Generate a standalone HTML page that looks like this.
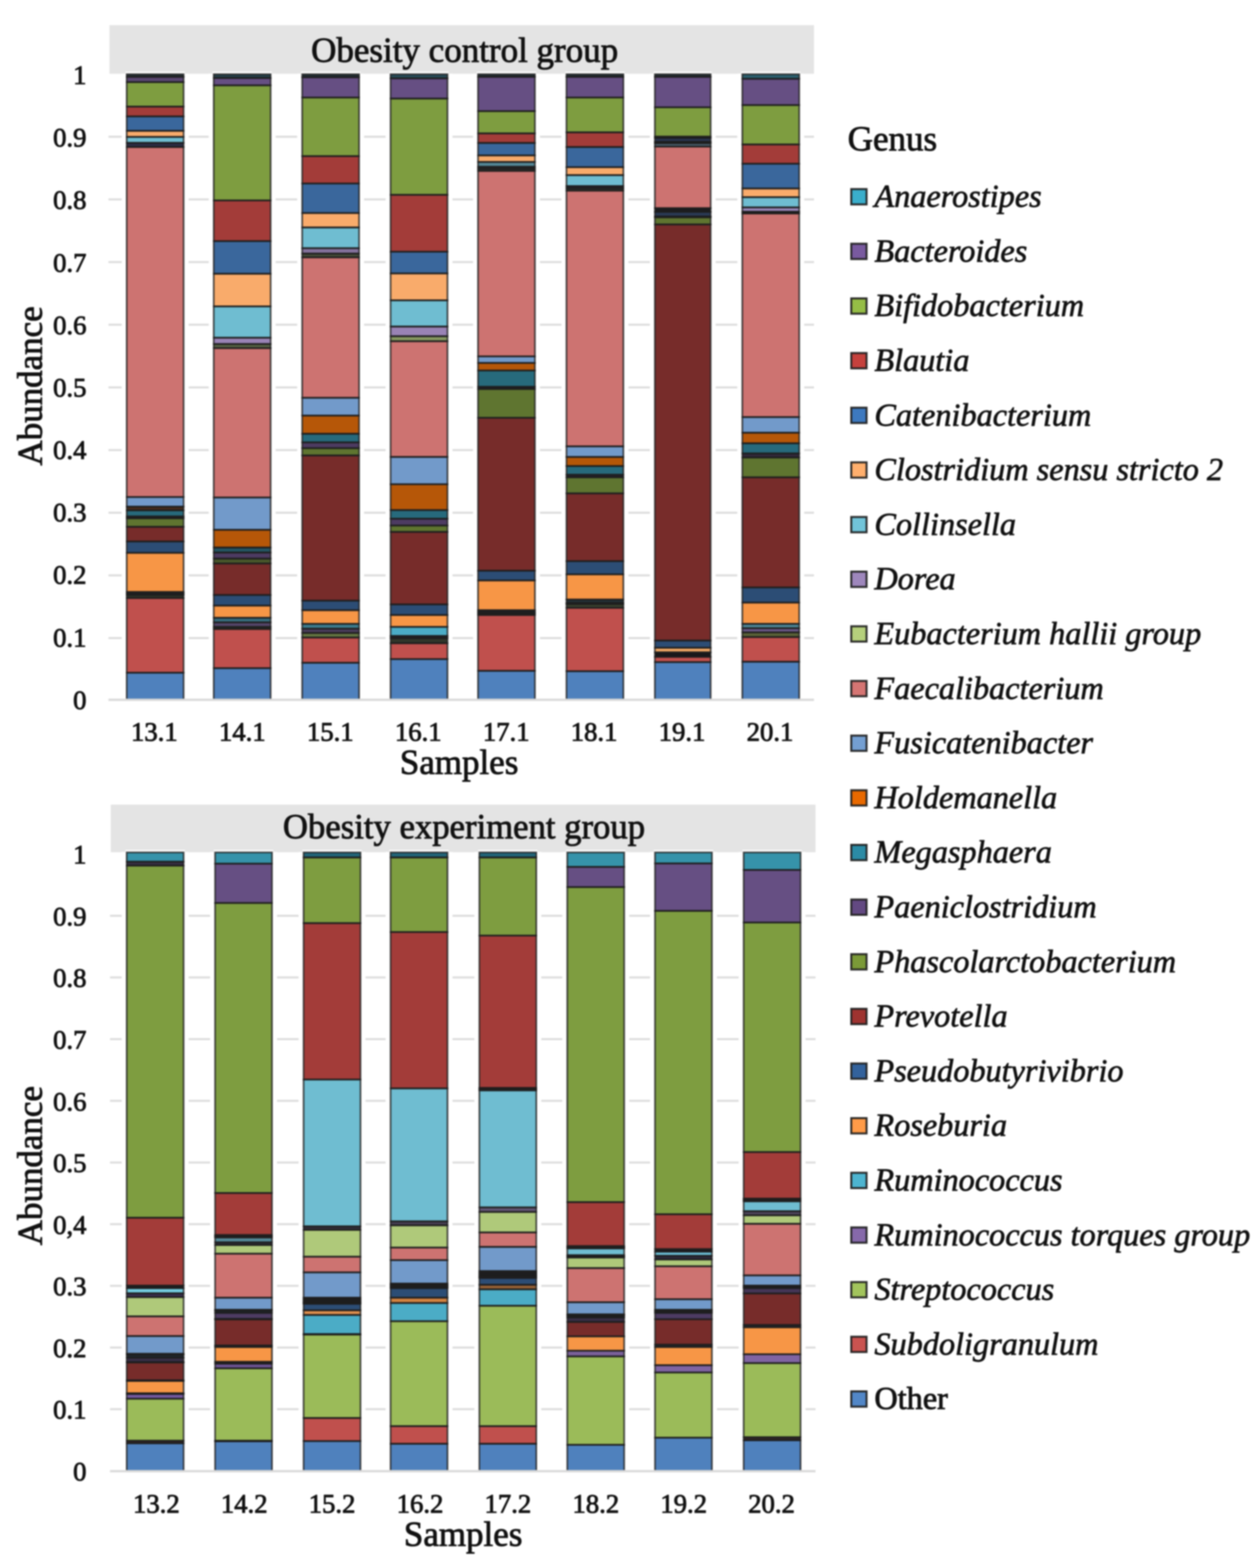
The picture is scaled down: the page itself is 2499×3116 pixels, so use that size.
<!DOCTYPE html>
<html lang="en">
<head>
<meta charset="utf-8">
<title>Genus abundance - obesity control and experiment groups</title>
<style>
html,body{margin:0;padding:0;background:#fff}
body{width:2499px;height:3116px;overflow:hidden}
svg{display:block;filter:blur(1.5px)}
text{font-family:"Liberation Serif","DejaVu Serif",serif;fill:#111;stroke:#111;stroke-width:1.6px;stroke-linejoin:round}
.b{font-size:69.5px}
.t{font-size:53px}
.l{font-size:64.1px;font-style:italic;stroke-width:1.3px}
.o{font-size:64.1px}
</style>
</head>
<body>
<svg width="2499" height="3116" viewBox="0 0 2499 3116">
<rect width="2499" height="3116" fill="#fff"/>
<rect x="217.5" y="50" width="1399.5" height="96.6" fill="#E4E4E4"/>
<rect x="215.5" y="1266" width="1401.5" height="4" fill="#DCDCDC"/>
<rect x="215.5" y="1141.4" width="1401.5" height="4" fill="#DCDCDC"/>
<rect x="215.5" y="1016.9" width="1401.5" height="4" fill="#DCDCDC"/>
<rect x="215.5" y="892.4" width="1401.5" height="4" fill="#DCDCDC"/>
<rect x="215.5" y="767.9" width="1401.5" height="4" fill="#DCDCDC"/>
<rect x="215.5" y="643.3" width="1401.5" height="4" fill="#DCDCDC"/>
<rect x="215.5" y="518.8" width="1401.5" height="4" fill="#DCDCDC"/>
<rect x="215.5" y="394.3" width="1401.5" height="4" fill="#DCDCDC"/>
<rect x="215.5" y="269.7" width="1401.5" height="4" fill="#DCDCDC"/>
<rect x="241.7" y="146.5" width="133" height="1243.9" fill="#fff"/>
<rect x="249.2" y="142.5" width="118" height="6" fill="#fff"/>
<g>
<rect x="251.7" y="147.5" width="113" height="5.1" fill="#223036"/>
<rect x="251.7" y="152.7" width="113" height="10.6" fill="#5a4772"/>
<rect x="251.7" y="163.2" width="113" height="48.5" fill="#7E9D40"/>
<rect x="251.7" y="211.8" width="113" height="19.6" fill="#A33C39"/>
<rect x="251.7" y="231.3" width="113" height="28.6" fill="#3A679C"/>
<rect x="251.7" y="260" width="113" height="12.1" fill="#F9AB6B"/>
<rect x="251.7" y="272.1" width="113" height="11.8" fill="#6FBDD1"/>
<rect x="251.7" y="283.8" width="113" height="8.4" fill="#2b2d45"/>
<rect x="251.7" y="292.2" width="113" height="695.4" fill="#CD7371"/>
<rect x="251.7" y="987.7" width="113" height="19" fill="#729ACA"/>
<rect x="251.7" y="1006.7" width="113" height="7.5" fill="#4a2e1b"/>
<rect x="251.7" y="1014.2" width="113" height="12.1" fill="#276A7C"/>
<rect x="251.7" y="1026.3" width="113" height="3.6" fill="#25222c"/>
<rect x="251.7" y="1029.9" width="113" height="16.9" fill="#5F7530"/>
<rect x="251.7" y="1046.8" width="113" height="29.2" fill="#772C2A"/>
<rect x="251.7" y="1076" width="113" height="22.6" fill="#2C4D75"/>
<rect x="251.7" y="1098.6" width="113" height="77.8" fill="#F79646"/>
<rect x="251.7" y="1176.4" width="113" height="3" fill="#25333b"/>
<rect x="251.7" y="1179.4" width="113" height="3" fill="#2d2835"/>
<rect x="251.7" y="1182.4" width="113" height="6" fill="#31362a"/>
<rect x="251.7" y="1188.5" width="113" height="148.3" fill="#C0504D"/>
<rect x="251.7" y="1336.8" width="113" height="53.7" fill="#4F81BD"/>
</g>
<g fill="none" stroke="#1e1e1e" stroke-width="3.4" stroke-opacity="0.78">
<rect x="251.7" y="147.5" width="113" height="5.1"/>
<rect x="251.7" y="152.7" width="113" height="10.6"/>
<rect x="251.7" y="163.2" width="113" height="48.5"/>
<rect x="251.7" y="211.8" width="113" height="19.6"/>
<rect x="251.7" y="231.3" width="113" height="28.6"/>
<rect x="251.7" y="260" width="113" height="12.1"/>
<rect x="251.7" y="272.1" width="113" height="11.8"/>
<rect x="251.7" y="283.8" width="113" height="8.4"/>
<rect x="251.7" y="292.2" width="113" height="695.4"/>
<rect x="251.7" y="987.7" width="113" height="19"/>
<rect x="251.7" y="1006.7" width="113" height="7.5"/>
<rect x="251.7" y="1014.2" width="113" height="12.1"/>
<rect x="251.7" y="1026.3" width="113" height="3.6"/>
<rect x="251.7" y="1029.9" width="113" height="16.9"/>
<rect x="251.7" y="1046.8" width="113" height="29.2"/>
<rect x="251.7" y="1076" width="113" height="22.6"/>
<rect x="251.7" y="1098.6" width="113" height="77.8"/>
<rect x="251.7" y="1176.4" width="113" height="3"/>
<rect x="251.7" y="1179.4" width="113" height="3"/>
<rect x="251.7" y="1182.4" width="113" height="6"/>
<rect x="251.7" y="1188.5" width="113" height="148.3"/>
<rect x="251.7" y="1336.8" width="113" height="53.7"/>
</g>
<rect x="414.6" y="146.5" width="133" height="1243.9" fill="#fff"/>
<rect x="422.1" y="142.5" width="118" height="6" fill="#fff"/>
<g>
<rect x="424.6" y="147.5" width="113" height="7.5" fill="#254049"/>
<rect x="424.6" y="155.1" width="113" height="14.5" fill="#664F83"/>
<rect x="424.6" y="169.5" width="113" height="228.8" fill="#7E9D40"/>
<rect x="424.6" y="398.4" width="113" height="80.8" fill="#A33C39"/>
<rect x="424.6" y="479.2" width="113" height="64.8" fill="#3A679C"/>
<rect x="424.6" y="544" width="113" height="64.8" fill="#F9AB6B"/>
<rect x="424.6" y="608.8" width="113" height="62.4" fill="#6FBDD1"/>
<rect x="424.6" y="671.2" width="113" height="12.4" fill="#9983B5"/>
<rect x="424.6" y="683.6" width="113" height="8.1" fill="#576245"/>
<rect x="424.6" y="691.7" width="113" height="296.9" fill="#CD7371"/>
<rect x="424.6" y="988.6" width="113" height="64.2" fill="#729ACA"/>
<rect x="424.6" y="1052.8" width="113" height="35.3" fill="#B65708"/>
<rect x="424.6" y="1088.1" width="113" height="9.9" fill="#245563"/>
<rect x="424.6" y="1098" width="113" height="12.1" fill="#4D3B62"/>
<rect x="424.6" y="1110.1" width="113" height="9.6" fill="#49582b"/>
<rect x="424.6" y="1119.7" width="113" height="62.7" fill="#772C2A"/>
<rect x="424.6" y="1182.4" width="113" height="21.1" fill="#2C4D75"/>
<rect x="424.6" y="1203.5" width="113" height="24.1" fill="#F79646"/>
<rect x="424.6" y="1227.7" width="113" height="9" fill="#376d7e"/>
<rect x="424.6" y="1236.7" width="113" height="9" fill="#554569"/>
<rect x="424.6" y="1245.7" width="113" height="4.2" fill="#31362a"/>
<rect x="424.6" y="1250" width="113" height="77.8" fill="#C0504D"/>
<rect x="424.6" y="1327.7" width="113" height="62.7" fill="#4F81BD"/>
</g>
<g fill="none" stroke="#1e1e1e" stroke-width="3.4" stroke-opacity="0.78">
<rect x="424.6" y="147.5" width="113" height="7.5"/>
<rect x="424.6" y="155.1" width="113" height="14.5"/>
<rect x="424.6" y="169.5" width="113" height="228.8"/>
<rect x="424.6" y="398.4" width="113" height="80.8"/>
<rect x="424.6" y="479.2" width="113" height="64.8"/>
<rect x="424.6" y="544" width="113" height="64.8"/>
<rect x="424.6" y="608.8" width="113" height="62.4"/>
<rect x="424.6" y="671.2" width="113" height="12.4"/>
<rect x="424.6" y="683.6" width="113" height="8.1"/>
<rect x="424.6" y="691.7" width="113" height="296.9"/>
<rect x="424.6" y="988.6" width="113" height="64.2"/>
<rect x="424.6" y="1052.8" width="113" height="35.3"/>
<rect x="424.6" y="1088.1" width="113" height="9.9"/>
<rect x="424.6" y="1098" width="113" height="12.1"/>
<rect x="424.6" y="1110.1" width="113" height="9.6"/>
<rect x="424.6" y="1119.7" width="113" height="62.7"/>
<rect x="424.6" y="1182.4" width="113" height="21.1"/>
<rect x="424.6" y="1203.5" width="113" height="24.1"/>
<rect x="424.6" y="1227.7" width="113" height="9"/>
<rect x="424.6" y="1236.7" width="113" height="9"/>
<rect x="424.6" y="1245.7" width="113" height="4.2"/>
<rect x="424.6" y="1250" width="113" height="77.8"/>
<rect x="424.6" y="1327.7" width="113" height="62.7"/>
</g>
<rect x="590.3" y="146.5" width="133" height="1243.9" fill="#fff"/>
<rect x="597.8" y="142.5" width="118" height="6" fill="#fff"/>
<g>
<rect x="600.3" y="147.5" width="113" height="6" fill="#223036"/>
<rect x="600.3" y="153.6" width="113" height="40.1" fill="#664F83"/>
<rect x="600.3" y="193.7" width="113" height="116.7" fill="#7E9D40"/>
<rect x="600.3" y="310.3" width="113" height="54.3" fill="#A33C39"/>
<rect x="600.3" y="364.6" width="113" height="58.8" fill="#3A679C"/>
<rect x="600.3" y="423.4" width="113" height="28.6" fill="#F9AB6B"/>
<rect x="600.3" y="452" width="113" height="41.3" fill="#6FBDD1"/>
<rect x="600.3" y="493.3" width="113" height="10.6" fill="#84729c"/>
<rect x="600.3" y="503.9" width="113" height="7.5" fill="#484f3b"/>
<rect x="600.3" y="511.4" width="113" height="279.1" fill="#CD7371"/>
<rect x="600.3" y="790.5" width="113" height="35.3" fill="#729ACA"/>
<rect x="600.3" y="825.8" width="113" height="36.2" fill="#B65708"/>
<rect x="600.3" y="862" width="113" height="17.2" fill="#276A7C"/>
<rect x="600.3" y="879.1" width="113" height="11.5" fill="#4d3b61"/>
<rect x="600.3" y="890.6" width="113" height="14.5" fill="#5F7530"/>
<rect x="600.3" y="905.1" width="113" height="288.5" fill="#772C2A"/>
<rect x="600.3" y="1193.6" width="113" height="19" fill="#2C4D75"/>
<rect x="600.3" y="1212.6" width="113" height="27.1" fill="#F79646"/>
<rect x="600.3" y="1239.7" width="113" height="9.6" fill="#3c7d8f"/>
<rect x="600.3" y="1249.4" width="113" height="8.4" fill="#4a3d5c"/>
<rect x="600.3" y="1257.8" width="113" height="9" fill="#647641"/>
<rect x="600.3" y="1266.8" width="113" height="50.3" fill="#C0504D"/>
<rect x="600.3" y="1317.2" width="113" height="73.3" fill="#4F81BD"/>
</g>
<g fill="none" stroke="#1e1e1e" stroke-width="3.4" stroke-opacity="0.78">
<rect x="600.3" y="147.5" width="113" height="6"/>
<rect x="600.3" y="153.6" width="113" height="40.1"/>
<rect x="600.3" y="193.7" width="113" height="116.7"/>
<rect x="600.3" y="310.3" width="113" height="54.3"/>
<rect x="600.3" y="364.6" width="113" height="58.8"/>
<rect x="600.3" y="423.4" width="113" height="28.6"/>
<rect x="600.3" y="452" width="113" height="41.3"/>
<rect x="600.3" y="493.3" width="113" height="10.6"/>
<rect x="600.3" y="503.9" width="113" height="7.5"/>
<rect x="600.3" y="511.4" width="113" height="279.1"/>
<rect x="600.3" y="790.5" width="113" height="35.3"/>
<rect x="600.3" y="825.8" width="113" height="36.2"/>
<rect x="600.3" y="862" width="113" height="17.2"/>
<rect x="600.3" y="879.1" width="113" height="11.5"/>
<rect x="600.3" y="890.6" width="113" height="14.5"/>
<rect x="600.3" y="905.1" width="113" height="288.5"/>
<rect x="600.3" y="1193.6" width="113" height="19"/>
<rect x="600.3" y="1212.6" width="113" height="27.1"/>
<rect x="600.3" y="1239.7" width="113" height="9.6"/>
<rect x="600.3" y="1249.4" width="113" height="8.4"/>
<rect x="600.3" y="1257.8" width="113" height="9"/>
<rect x="600.3" y="1266.8" width="113" height="50.3"/>
<rect x="600.3" y="1317.2" width="113" height="73.3"/>
</g>
<rect x="765.9" y="146.5" width="133" height="1243.9" fill="#fff"/>
<rect x="773.4" y="142.5" width="118" height="6" fill="#fff"/>
<g>
<rect x="775.9" y="147.5" width="113" height="8.1" fill="#274c58"/>
<rect x="775.9" y="155.7" width="113" height="40.1" fill="#664F83"/>
<rect x="775.9" y="195.8" width="113" height="191.4" fill="#7E9D40"/>
<rect x="775.9" y="387.2" width="113" height="113.1" fill="#A33C39"/>
<rect x="775.9" y="500.3" width="113" height="43.1" fill="#3A679C"/>
<rect x="775.9" y="543.4" width="113" height="53.4" fill="#F9AB6B"/>
<rect x="775.9" y="596.7" width="113" height="52.2" fill="#6FBDD1"/>
<rect x="775.9" y="648.9" width="113" height="19.3" fill="#9983B5"/>
<rect x="775.9" y="668.2" width="113" height="9.9" fill="#879961"/>
<rect x="775.9" y="678.1" width="113" height="229.9" fill="#CD7371"/>
<rect x="775.9" y="908.1" width="113" height="54.3" fill="#729ACA"/>
<rect x="775.9" y="962.3" width="113" height="51.3" fill="#B65708"/>
<rect x="775.9" y="1013.6" width="113" height="17.2" fill="#276A7C"/>
<rect x="775.9" y="1030.8" width="113" height="13.6" fill="#4D3B62"/>
<rect x="775.9" y="1044.4" width="113" height="12.7" fill="#5F7530"/>
<rect x="775.9" y="1057" width="113" height="144.1" fill="#772C2A"/>
<rect x="775.9" y="1201.1" width="113" height="21.1" fill="#2C4D75"/>
<rect x="775.9" y="1222.2" width="113" height="23.5" fill="#F79646"/>
<rect x="775.9" y="1245.7" width="113" height="18.1" fill="#4BACC6"/>
<rect x="775.9" y="1263.8" width="113" height="4.2" fill="#2d2835"/>
<rect x="775.9" y="1268.1" width="113" height="10.3" fill="#31362a"/>
<rect x="775.9" y="1278.3" width="113" height="31.4" fill="#C0504D"/>
<rect x="775.9" y="1309.7" width="113" height="80.8" fill="#4F81BD"/>
</g>
<g fill="none" stroke="#1e1e1e" stroke-width="3.4" stroke-opacity="0.78">
<rect x="775.9" y="147.5" width="113" height="8.1"/>
<rect x="775.9" y="155.7" width="113" height="40.1"/>
<rect x="775.9" y="195.8" width="113" height="191.4"/>
<rect x="775.9" y="387.2" width="113" height="113.1"/>
<rect x="775.9" y="500.3" width="113" height="43.1"/>
<rect x="775.9" y="543.4" width="113" height="53.4"/>
<rect x="775.9" y="596.7" width="113" height="52.2"/>
<rect x="775.9" y="648.9" width="113" height="19.3"/>
<rect x="775.9" y="668.2" width="113" height="9.9"/>
<rect x="775.9" y="678.1" width="113" height="229.9"/>
<rect x="775.9" y="908.1" width="113" height="54.3"/>
<rect x="775.9" y="962.3" width="113" height="51.3"/>
<rect x="775.9" y="1013.6" width="113" height="17.2"/>
<rect x="775.9" y="1030.8" width="113" height="13.6"/>
<rect x="775.9" y="1044.4" width="113" height="12.7"/>
<rect x="775.9" y="1057" width="113" height="144.1"/>
<rect x="775.9" y="1201.1" width="113" height="21.1"/>
<rect x="775.9" y="1222.2" width="113" height="23.5"/>
<rect x="775.9" y="1245.7" width="113" height="18.1"/>
<rect x="775.9" y="1263.8" width="113" height="4.2"/>
<rect x="775.9" y="1268.1" width="113" height="10.3"/>
<rect x="775.9" y="1278.3" width="113" height="31.4"/>
<rect x="775.9" y="1309.7" width="113" height="80.8"/>
</g>
<rect x="939.6" y="146.5" width="133" height="1243.9" fill="#fff"/>
<rect x="947.1" y="142.5" width="118" height="6" fill="#fff"/>
<g>
<rect x="949.6" y="147.5" width="113" height="5.1" fill="#223036"/>
<rect x="949.6" y="152.7" width="113" height="68.1" fill="#664F83"/>
<rect x="949.6" y="220.8" width="113" height="44.3" fill="#7E9D40"/>
<rect x="949.6" y="265.1" width="113" height="19" fill="#A33C39"/>
<rect x="949.6" y="284.1" width="113" height="24.7" fill="#3A679C"/>
<rect x="949.6" y="308.8" width="113" height="13" fill="#F9AB6B"/>
<rect x="949.6" y="321.8" width="113" height="9.6" fill="#548897"/>
<rect x="949.6" y="331.4" width="113" height="3.9" fill="#302d38"/>
<rect x="949.6" y="335.4" width="113" height="4.2" fill="#34382f"/>
<rect x="949.6" y="339.6" width="113" height="368.7" fill="#CD7371"/>
<rect x="949.6" y="708.3" width="113" height="13" fill="#729ACA"/>
<rect x="949.6" y="721.3" width="113" height="15.1" fill="#B65708"/>
<rect x="949.6" y="736.3" width="113" height="32.3" fill="#276A7C"/>
<rect x="949.6" y="768.6" width="113" height="4.4" fill="#25222c"/>
<rect x="949.6" y="773" width="113" height="57.3" fill="#5F7530"/>
<rect x="949.6" y="830.3" width="113" height="303.9" fill="#772C2A"/>
<rect x="949.6" y="1134.2" width="113" height="19.3" fill="#2C4D75"/>
<rect x="949.6" y="1153.5" width="113" height="59.1" fill="#F79646"/>
<rect x="949.6" y="1212.6" width="113" height="3.6" fill="#25333b"/>
<rect x="949.6" y="1216.2" width="113" height="3" fill="#2d2835"/>
<rect x="949.6" y="1219.2" width="113" height="3" fill="#31362a"/>
<rect x="949.6" y="1222.2" width="113" height="110.9" fill="#C0504D"/>
<rect x="949.6" y="1333.2" width="113" height="57.3" fill="#4F81BD"/>
</g>
<g fill="none" stroke="#1e1e1e" stroke-width="3.4" stroke-opacity="0.78">
<rect x="949.6" y="147.5" width="113" height="5.1"/>
<rect x="949.6" y="152.7" width="113" height="68.1"/>
<rect x="949.6" y="220.8" width="113" height="44.3"/>
<rect x="949.6" y="265.1" width="113" height="19"/>
<rect x="949.6" y="284.1" width="113" height="24.7"/>
<rect x="949.6" y="308.8" width="113" height="13"/>
<rect x="949.6" y="321.8" width="113" height="9.6"/>
<rect x="949.6" y="331.4" width="113" height="3.9"/>
<rect x="949.6" y="335.4" width="113" height="4.2"/>
<rect x="949.6" y="339.6" width="113" height="368.7"/>
<rect x="949.6" y="708.3" width="113" height="13"/>
<rect x="949.6" y="721.3" width="113" height="15.1"/>
<rect x="949.6" y="736.3" width="113" height="32.3"/>
<rect x="949.6" y="768.6" width="113" height="4.4"/>
<rect x="949.6" y="773" width="113" height="57.3"/>
<rect x="949.6" y="830.3" width="113" height="303.9"/>
<rect x="949.6" y="1134.2" width="113" height="19.3"/>
<rect x="949.6" y="1153.5" width="113" height="59.1"/>
<rect x="949.6" y="1212.6" width="113" height="3.6"/>
<rect x="949.6" y="1216.2" width="113" height="3"/>
<rect x="949.6" y="1219.2" width="113" height="3"/>
<rect x="949.6" y="1222.2" width="113" height="110.9"/>
<rect x="949.6" y="1333.2" width="113" height="57.3"/>
</g>
<rect x="1115.3" y="146.5" width="133" height="1243.9" fill="#fff"/>
<rect x="1122.8" y="142.5" width="118" height="6" fill="#fff"/>
<g>
<rect x="1125.3" y="147.5" width="113" height="5.1" fill="#223036"/>
<rect x="1125.3" y="152.7" width="113" height="41" fill="#664F83"/>
<rect x="1125.3" y="193.7" width="113" height="69.3" fill="#7E9D40"/>
<rect x="1125.3" y="263" width="113" height="29.2" fill="#A33C39"/>
<rect x="1125.3" y="292.2" width="113" height="40.1" fill="#3A679C"/>
<rect x="1125.3" y="332.3" width="113" height="15.7" fill="#F9AB6B"/>
<rect x="1125.3" y="348" width="113" height="21.7" fill="#6FBDD1"/>
<rect x="1125.3" y="369.7" width="113" height="4.2" fill="#302d38"/>
<rect x="1125.3" y="374" width="113" height="4.8" fill="#34382f"/>
<rect x="1125.3" y="378.8" width="113" height="508.2" fill="#CD7371"/>
<rect x="1125.3" y="887" width="113" height="21.1" fill="#729ACA"/>
<rect x="1125.3" y="908.1" width="113" height="18.1" fill="#B65708"/>
<rect x="1125.3" y="926.2" width="113" height="17.2" fill="#276A7C"/>
<rect x="1125.3" y="943.4" width="113" height="5.1" fill="#25222c"/>
<rect x="1125.3" y="948.5" width="113" height="32" fill="#5F7530"/>
<rect x="1125.3" y="980.4" width="113" height="134.8" fill="#772C2A"/>
<rect x="1125.3" y="1115.2" width="113" height="26.2" fill="#2C4D75"/>
<rect x="1125.3" y="1141.4" width="113" height="50" fill="#F79646"/>
<rect x="1125.3" y="1191.5" width="113" height="6.6" fill="#25333b"/>
<rect x="1125.3" y="1198.1" width="113" height="2.4" fill="#2d2835"/>
<rect x="1125.3" y="1200.5" width="113" height="7.2" fill="#3b422f"/>
<rect x="1125.3" y="1207.8" width="113" height="126" fill="#C0504D"/>
<rect x="1125.3" y="1333.8" width="113" height="56.7" fill="#4F81BD"/>
</g>
<g fill="none" stroke="#1e1e1e" stroke-width="3.4" stroke-opacity="0.78">
<rect x="1125.3" y="147.5" width="113" height="5.1"/>
<rect x="1125.3" y="152.7" width="113" height="41"/>
<rect x="1125.3" y="193.7" width="113" height="69.3"/>
<rect x="1125.3" y="263" width="113" height="29.2"/>
<rect x="1125.3" y="292.2" width="113" height="40.1"/>
<rect x="1125.3" y="332.3" width="113" height="15.7"/>
<rect x="1125.3" y="348" width="113" height="21.7"/>
<rect x="1125.3" y="369.7" width="113" height="4.2"/>
<rect x="1125.3" y="374" width="113" height="4.8"/>
<rect x="1125.3" y="378.8" width="113" height="508.2"/>
<rect x="1125.3" y="887" width="113" height="21.1"/>
<rect x="1125.3" y="908.1" width="113" height="18.1"/>
<rect x="1125.3" y="926.2" width="113" height="17.2"/>
<rect x="1125.3" y="943.4" width="113" height="5.1"/>
<rect x="1125.3" y="948.5" width="113" height="32"/>
<rect x="1125.3" y="980.4" width="113" height="134.8"/>
<rect x="1125.3" y="1115.2" width="113" height="26.2"/>
<rect x="1125.3" y="1141.4" width="113" height="50"/>
<rect x="1125.3" y="1191.5" width="113" height="6.6"/>
<rect x="1125.3" y="1198.1" width="113" height="2.4"/>
<rect x="1125.3" y="1200.5" width="113" height="7.2"/>
<rect x="1125.3" y="1207.8" width="113" height="126"/>
<rect x="1125.3" y="1333.8" width="113" height="56.7"/>
</g>
<rect x="1290.9" y="146.5" width="130.8" height="1243.9" fill="#fff"/>
<rect x="1298.4" y="142.5" width="115.8" height="6" fill="#fff"/>
<g>
<rect x="1300.9" y="147.5" width="110.8" height="5.1" fill="#223036"/>
<rect x="1300.9" y="152.7" width="110.8" height="60.6" fill="#664F83"/>
<rect x="1300.9" y="213.3" width="110.8" height="58.2" fill="#7E9D40"/>
<rect x="1300.9" y="271.5" width="110.8" height="2.7" fill="#1c1c20"/>
<rect x="1300.9" y="274.2" width="110.8" height="7.6" fill="#2a3752"/>
<rect x="1300.9" y="281.8" width="110.8" height="2.8" fill="#1c1c20"/>
<rect x="1300.9" y="284.6" width="110.8" height="6.7" fill="#4f6572"/>
<rect x="1300.9" y="291.3" width="110.8" height="122.3" fill="#CD7371"/>
<rect x="1300.9" y="413.6" width="110.8" height="7.4" fill="#1b1b1e"/>
<rect x="1300.9" y="421" width="110.8" height="9.3" fill="#2a3a55"/>
<rect x="1300.9" y="430.3" width="110.8" height="1.5" fill="#1c1c20"/>
<rect x="1300.9" y="431.8" width="110.8" height="14.2" fill="#5F7530"/>
<rect x="1300.9" y="446" width="110.8" height="826.9" fill="#772C2A"/>
<rect x="1300.9" y="1272.9" width="110.8" height="14.5" fill="#2C4D75"/>
<rect x="1300.9" y="1287.3" width="110.8" height="9" fill="#f2a965"/>
<rect x="1300.9" y="1296.4" width="110.8" height="9" fill="#18181a"/>
<rect x="1300.9" y="1305.4" width="110.8" height="10.3" fill="#c0504d"/>
<rect x="1300.9" y="1315.7" width="110.8" height="74.8" fill="#4F81BD"/>
</g>
<g fill="none" stroke="#1e1e1e" stroke-width="3.4" stroke-opacity="0.78">
<rect x="1300.9" y="147.5" width="110.8" height="5.1"/>
<rect x="1300.9" y="152.7" width="110.8" height="60.6"/>
<rect x="1300.9" y="213.3" width="110.8" height="58.2"/>
<rect x="1300.9" y="271.5" width="110.8" height="2.7"/>
<rect x="1300.9" y="274.2" width="110.8" height="7.6"/>
<rect x="1300.9" y="281.8" width="110.8" height="2.8"/>
<rect x="1300.9" y="284.6" width="110.8" height="6.7"/>
<rect x="1300.9" y="291.3" width="110.8" height="122.3"/>
<rect x="1300.9" y="413.6" width="110.8" height="7.4"/>
<rect x="1300.9" y="421" width="110.8" height="9.3"/>
<rect x="1300.9" y="430.3" width="110.8" height="1.5"/>
<rect x="1300.9" y="431.8" width="110.8" height="14.2"/>
<rect x="1300.9" y="446" width="110.8" height="826.9"/>
<rect x="1300.9" y="1272.9" width="110.8" height="14.5"/>
<rect x="1300.9" y="1287.3" width="110.8" height="9"/>
<rect x="1300.9" y="1296.4" width="110.8" height="9"/>
<rect x="1300.9" y="1305.4" width="110.8" height="10.3"/>
<rect x="1300.9" y="1315.7" width="110.8" height="74.8"/>
</g>
<rect x="1464.6" y="146.5" width="133" height="1243.9" fill="#fff"/>
<rect x="1472.1" y="142.5" width="118" height="6" fill="#fff"/>
<g>
<rect x="1474.6" y="147.5" width="113" height="9" fill="#2b5f6e"/>
<rect x="1474.6" y="156.6" width="113" height="52.2" fill="#664F83"/>
<rect x="1474.6" y="208.7" width="113" height="78.4" fill="#7E9D40"/>
<rect x="1474.6" y="287.1" width="113" height="38.3" fill="#A33C39"/>
<rect x="1474.6" y="325.4" width="113" height="49.1" fill="#3A679C"/>
<rect x="1474.6" y="374.6" width="113" height="17.2" fill="#F9AB6B"/>
<rect x="1474.6" y="391.7" width="113" height="20.5" fill="#6FBDD1"/>
<rect x="1474.6" y="412.2" width="113" height="8.4" fill="#9a86b8"/>
<rect x="1474.6" y="420.7" width="113" height="3.6" fill="#1c1c20"/>
<rect x="1474.6" y="424.3" width="113" height="404.5" fill="#CD7371"/>
<rect x="1474.6" y="828.8" width="113" height="31.1" fill="#729ACA"/>
<rect x="1474.6" y="859.8" width="113" height="21.1" fill="#B65708"/>
<rect x="1474.6" y="880.9" width="113" height="20.2" fill="#276A7C"/>
<rect x="1474.6" y="901.1" width="113" height="8.1" fill="#31293b"/>
<rect x="1474.6" y="909.3" width="113" height="39.2" fill="#5F7530"/>
<rect x="1474.6" y="948.5" width="113" height="218.9" fill="#772C2A"/>
<rect x="1474.6" y="1167.4" width="113" height="30.1" fill="#2C4D75"/>
<rect x="1474.6" y="1197.5" width="113" height="42.2" fill="#F79646"/>
<rect x="1474.6" y="1239.7" width="113" height="8.7" fill="#4e8796"/>
<rect x="1474.6" y="1248.5" width="113" height="8.1" fill="#6a5888"/>
<rect x="1474.6" y="1256.6" width="113" height="9.3" fill="#5a6238"/>
<rect x="1474.6" y="1265.9" width="113" height="49.1" fill="#C0504D"/>
<rect x="1474.6" y="1315.1" width="113" height="75.4" fill="#4F81BD"/>
</g>
<g fill="none" stroke="#1e1e1e" stroke-width="3.4" stroke-opacity="0.78">
<rect x="1474.6" y="147.5" width="113" height="9"/>
<rect x="1474.6" y="156.6" width="113" height="52.2"/>
<rect x="1474.6" y="208.7" width="113" height="78.4"/>
<rect x="1474.6" y="287.1" width="113" height="38.3"/>
<rect x="1474.6" y="325.4" width="113" height="49.1"/>
<rect x="1474.6" y="374.6" width="113" height="17.2"/>
<rect x="1474.6" y="391.7" width="113" height="20.5"/>
<rect x="1474.6" y="412.2" width="113" height="8.4"/>
<rect x="1474.6" y="420.7" width="113" height="3.6"/>
<rect x="1474.6" y="424.3" width="113" height="404.5"/>
<rect x="1474.6" y="828.8" width="113" height="31.1"/>
<rect x="1474.6" y="859.8" width="113" height="21.1"/>
<rect x="1474.6" y="880.9" width="113" height="20.2"/>
<rect x="1474.6" y="901.1" width="113" height="8.1"/>
<rect x="1474.6" y="909.3" width="113" height="39.2"/>
<rect x="1474.6" y="948.5" width="113" height="218.9"/>
<rect x="1474.6" y="1167.4" width="113" height="30.1"/>
<rect x="1474.6" y="1197.5" width="113" height="42.2"/>
<rect x="1474.6" y="1239.7" width="113" height="8.7"/>
<rect x="1474.6" y="1248.5" width="113" height="8.1"/>
<rect x="1474.6" y="1256.6" width="113" height="9.3"/>
<rect x="1474.6" y="1265.9" width="113" height="49.1"/>
<rect x="1474.6" y="1315.1" width="113" height="75.4"/>
</g>
<rect x="215.5" y="1388.4" width="1401.5" height="4.6" fill="#DADADA"/>
<text x="171.8" y="1408.8" text-anchor="end" class="t">0</text>
<text x="171.8" y="1284.6" text-anchor="end" class="t">0.1</text>
<text x="171.8" y="1160.4" text-anchor="end" class="t">0.2</text>
<text x="171.8" y="1036.3" text-anchor="end" class="t">0.3</text>
<text x="171.8" y="912.1" text-anchor="end" class="t">0.4</text>
<text x="171.8" y="787.9" text-anchor="end" class="t">0.5</text>
<text x="171.8" y="663.7" text-anchor="end" class="t">0.6</text>
<text x="171.8" y="539.5" text-anchor="end" class="t">0.7</text>
<text x="171.8" y="415.4" text-anchor="end" class="t">0.8</text>
<text x="171.8" y="291.2" text-anchor="end" class="t">0.9</text>
<text x="171.8" y="167" text-anchor="end" class="t">1</text>
<text x="306.7" y="1472.3" text-anchor="middle" class="t">13.1</text>
<text x="481.4" y="1472.3" text-anchor="middle" class="t">14.1</text>
<text x="656.1" y="1472.3" text-anchor="middle" class="t">15.1</text>
<text x="830.8" y="1472.3" text-anchor="middle" class="t">16.1</text>
<text x="1005.5" y="1472.3" text-anchor="middle" class="t">17.1</text>
<text x="1180.2" y="1472.3" text-anchor="middle" class="t">18.1</text>
<text x="1354.9" y="1472.3" text-anchor="middle" class="t">19.1</text>
<text x="1529.6" y="1472.3" text-anchor="middle" class="t">20.1</text>
<text x="912" y="1537.5" text-anchor="middle" class="b">Samples</text>
<text x="923" y="123.3" text-anchor="middle" class="b">Obesity control group</text>
<text transform="translate(83.2 767) rotate(-90)" text-anchor="middle" class="b">Abundance</text>
<rect x="220" y="1599" width="1400" height="94.6" fill="#E4E4E4"/>
<rect x="218.5" y="2798.4" width="1401.5" height="4" fill="#DCDCDC"/>
<rect x="218.5" y="2675.9" width="1401.5" height="4" fill="#DCDCDC"/>
<rect x="218.5" y="2553.3" width="1401.5" height="4" fill="#DCDCDC"/>
<rect x="218.5" y="2430.7" width="1401.5" height="4" fill="#DCDCDC"/>
<rect x="218.5" y="2308.2" width="1401.5" height="4" fill="#DCDCDC"/>
<rect x="218.5" y="2185.6" width="1401.5" height="4" fill="#DCDCDC"/>
<rect x="218.5" y="2063" width="1401.5" height="4" fill="#DCDCDC"/>
<rect x="218.5" y="1940.4" width="1401.5" height="4" fill="#DCDCDC"/>
<rect x="218.5" y="1817.9" width="1401.5" height="4" fill="#DCDCDC"/>
<rect x="241.7" y="1693" width="133" height="1230.4" fill="#fff"/>
<rect x="249.2" y="1689" width="118" height="6" fill="#fff"/>
<g>
<rect x="251.7" y="1694" width="113" height="18.4" fill="#3693AA"/>
<rect x="251.7" y="1712.4" width="113" height="7.8" fill="#372f43"/>
<rect x="251.7" y="1720.3" width="113" height="699.6" fill="#7E9D40"/>
<rect x="251.7" y="2419.9" width="113" height="134.8" fill="#A33C39"/>
<rect x="251.7" y="2554.7" width="113" height="5.1" fill="#1c1c20"/>
<rect x="251.7" y="2559.8" width="113" height="10.3" fill="#74cde0"/>
<rect x="251.7" y="2570.1" width="113" height="7.5" fill="#3a2f50"/>
<rect x="251.7" y="2577.6" width="113" height="38.3" fill="#AFC97A"/>
<rect x="251.7" y="2615.9" width="113" height="39.2" fill="#CD7371"/>
<rect x="251.7" y="2655.1" width="113" height="35.3" fill="#729ACA"/>
<rect x="251.7" y="2690.3" width="113" height="1.5" fill="#35271e"/>
<rect x="251.7" y="2691.9" width="113" height="6" fill="#1f2930"/>
<rect x="251.7" y="2697.9" width="113" height="9" fill="#382e46"/>
<rect x="251.7" y="2706.9" width="113" height="0.6" fill="#282b24"/>
<rect x="251.7" y="2707.5" width="113" height="35.6" fill="#772C2A"/>
<rect x="251.7" y="2743.1" width="113" height="1.2" fill="#20252e"/>
<rect x="251.7" y="2744.3" width="113" height="24.4" fill="#F79646"/>
<rect x="251.7" y="2768.7" width="113" height="1.5" fill="#1c1c20"/>
<rect x="251.7" y="2770.2" width="113" height="9.3" fill="#7459a0"/>
<rect x="251.7" y="2779.6" width="113" height="83.5" fill="#9BBB59"/>
<rect x="251.7" y="2863.1" width="113" height="5.1" fill="#362628"/>
<rect x="251.7" y="2868.2" width="113" height="55.2" fill="#4F81BD"/>
</g>
<g fill="none" stroke="#1e1e1e" stroke-width="3.4" stroke-opacity="0.78">
<rect x="251.7" y="1694" width="113" height="18.4"/>
<rect x="251.7" y="1712.4" width="113" height="7.8"/>
<rect x="251.7" y="1720.3" width="113" height="699.6"/>
<rect x="251.7" y="2419.9" width="113" height="134.8"/>
<rect x="251.7" y="2554.7" width="113" height="5.1"/>
<rect x="251.7" y="2559.8" width="113" height="10.3"/>
<rect x="251.7" y="2570.1" width="113" height="7.5"/>
<rect x="251.7" y="2577.6" width="113" height="38.3"/>
<rect x="251.7" y="2615.9" width="113" height="39.2"/>
<rect x="251.7" y="2655.1" width="113" height="35.3"/>
<rect x="251.7" y="2690.3" width="113" height="1.5"/>
<rect x="251.7" y="2691.9" width="113" height="6"/>
<rect x="251.7" y="2697.9" width="113" height="9"/>
<rect x="251.7" y="2706.9" width="113" height="0.6"/>
<rect x="251.7" y="2707.5" width="113" height="35.6"/>
<rect x="251.7" y="2743.1" width="113" height="1.2"/>
<rect x="251.7" y="2744.3" width="113" height="24.4"/>
<rect x="251.7" y="2768.7" width="113" height="1.5"/>
<rect x="251.7" y="2770.2" width="113" height="9.3"/>
<rect x="251.7" y="2779.6" width="113" height="83.5"/>
<rect x="251.7" y="2863.1" width="113" height="5.1"/>
<rect x="251.7" y="2868.2" width="113" height="55.2"/>
</g>
<rect x="417.3" y="1693" width="133" height="1230.4" fill="#fff"/>
<rect x="424.8" y="1689" width="118" height="6" fill="#fff"/>
<g>
<rect x="427.3" y="1694" width="113" height="22.3" fill="#3693AA"/>
<rect x="427.3" y="1716.4" width="113" height="78.1" fill="#664F83"/>
<rect x="427.3" y="1794.4" width="113" height="576.3" fill="#7E9D40"/>
<rect x="427.3" y="2370.8" width="113" height="83.5" fill="#A33C39"/>
<rect x="427.3" y="2454.3" width="113" height="2.4" fill="#222934"/>
<rect x="427.3" y="2456.7" width="113" height="2.4" fill="#3f332d"/>
<rect x="427.3" y="2459.1" width="113" height="9.6" fill="#548897"/>
<rect x="427.3" y="2468.8" width="113" height="5.4" fill="#302d38"/>
<rect x="427.3" y="2474.2" width="113" height="17.2" fill="#AFC97A"/>
<rect x="427.3" y="2491.4" width="113" height="87.4" fill="#CD7371"/>
<rect x="427.3" y="2578.8" width="113" height="24.1" fill="#729ACA"/>
<rect x="427.3" y="2602.9" width="113" height="1.5" fill="#35271e"/>
<rect x="427.3" y="2604.4" width="113" height="4.5" fill="#1f2930"/>
<rect x="427.3" y="2608.9" width="113" height="12.1" fill="#4D3B62"/>
<rect x="427.3" y="2621" width="113" height="0.9" fill="#282b24"/>
<rect x="427.3" y="2621.9" width="113" height="51.9" fill="#772C2A"/>
<rect x="427.3" y="2673.8" width="113" height="3" fill="#20252e"/>
<rect x="427.3" y="2676.8" width="113" height="29.5" fill="#F79646"/>
<rect x="427.3" y="2706.3" width="113" height="3.6" fill="#1c1c20"/>
<rect x="427.3" y="2709.9" width="113" height="9.3" fill="#6c5494"/>
<rect x="427.3" y="2719.3" width="113" height="143.8" fill="#9BBB59"/>
<rect x="427.3" y="2863.1" width="113" height="1.2" fill="#362628"/>
<rect x="427.3" y="2864.3" width="113" height="59.1" fill="#4F81BD"/>
</g>
<g fill="none" stroke="#1e1e1e" stroke-width="3.4" stroke-opacity="0.78">
<rect x="427.3" y="1694" width="113" height="22.3"/>
<rect x="427.3" y="1716.4" width="113" height="78.1"/>
<rect x="427.3" y="1794.4" width="113" height="576.3"/>
<rect x="427.3" y="2370.8" width="113" height="83.5"/>
<rect x="427.3" y="2454.3" width="113" height="2.4"/>
<rect x="427.3" y="2456.7" width="113" height="2.4"/>
<rect x="427.3" y="2459.1" width="113" height="9.6"/>
<rect x="427.3" y="2468.8" width="113" height="5.4"/>
<rect x="427.3" y="2474.2" width="113" height="17.2"/>
<rect x="427.3" y="2491.4" width="113" height="87.4"/>
<rect x="427.3" y="2578.8" width="113" height="24.1"/>
<rect x="427.3" y="2602.9" width="113" height="1.5"/>
<rect x="427.3" y="2604.4" width="113" height="4.5"/>
<rect x="427.3" y="2608.9" width="113" height="12.1"/>
<rect x="427.3" y="2621" width="113" height="0.9"/>
<rect x="427.3" y="2621.9" width="113" height="51.9"/>
<rect x="427.3" y="2673.8" width="113" height="3"/>
<rect x="427.3" y="2676.8" width="113" height="29.5"/>
<rect x="427.3" y="2706.3" width="113" height="3.6"/>
<rect x="427.3" y="2709.9" width="113" height="9.3"/>
<rect x="427.3" y="2719.3" width="113" height="143.8"/>
<rect x="427.3" y="2863.1" width="113" height="1.2"/>
<rect x="427.3" y="2864.3" width="113" height="59.1"/>
</g>
<rect x="593.1" y="1693" width="133" height="1230.4" fill="#fff"/>
<rect x="600.6" y="1689" width="118" height="6" fill="#fff"/>
<g>
<rect x="603.1" y="1694" width="113" height="9.9" fill="#216579"/>
<rect x="603.1" y="1704" width="113" height="130.5" fill="#7E9D40"/>
<rect x="603.1" y="1834.5" width="113" height="310.8" fill="#A33C39"/>
<rect x="603.1" y="2145.4" width="113" height="291.7" fill="#6FBDD1"/>
<rect x="603.1" y="2437.1" width="113" height="6.9" fill="#34303c"/>
<rect x="603.1" y="2444" width="113" height="53.4" fill="#AFC97A"/>
<rect x="603.1" y="2497.4" width="113" height="31.1" fill="#CD7371"/>
<rect x="603.1" y="2528.5" width="113" height="50.3" fill="#729ACA"/>
<rect x="603.1" y="2578.8" width="113" height="3" fill="#35271e"/>
<rect x="603.1" y="2581.8" width="113" height="3" fill="#1f2930"/>
<rect x="603.1" y="2584.8" width="113" height="3" fill="#25222c"/>
<rect x="603.1" y="2587.8" width="113" height="1.5" fill="#282b24"/>
<rect x="603.1" y="2589.4" width="113" height="1.5" fill="#2b2023"/>
<rect x="603.1" y="2590.9" width="113" height="13" fill="#2C4D75"/>
<rect x="603.1" y="2603.8" width="113" height="9.3" fill="#e0904e"/>
<rect x="603.1" y="2613.2" width="113" height="38" fill="#4BACC6"/>
<rect x="603.1" y="2651.2" width="113" height="0.9" fill="#2d2835"/>
<rect x="603.1" y="2652.1" width="113" height="165.8" fill="#9BBB59"/>
<rect x="603.1" y="2817.9" width="113" height="45.8" fill="#C0504D"/>
<rect x="603.1" y="2863.7" width="113" height="59.7" fill="#4F81BD"/>
</g>
<g fill="none" stroke="#1e1e1e" stroke-width="3.4" stroke-opacity="0.78">
<rect x="603.1" y="1694" width="113" height="9.9"/>
<rect x="603.1" y="1704" width="113" height="130.5"/>
<rect x="603.1" y="1834.5" width="113" height="310.8"/>
<rect x="603.1" y="2145.4" width="113" height="291.7"/>
<rect x="603.1" y="2437.1" width="113" height="6.9"/>
<rect x="603.1" y="2444" width="113" height="53.4"/>
<rect x="603.1" y="2497.4" width="113" height="31.1"/>
<rect x="603.1" y="2528.5" width="113" height="50.3"/>
<rect x="603.1" y="2578.8" width="113" height="3"/>
<rect x="603.1" y="2581.8" width="113" height="3"/>
<rect x="603.1" y="2584.8" width="113" height="3"/>
<rect x="603.1" y="2587.8" width="113" height="1.5"/>
<rect x="603.1" y="2589.4" width="113" height="1.5"/>
<rect x="603.1" y="2590.9" width="113" height="13"/>
<rect x="603.1" y="2603.8" width="113" height="9.3"/>
<rect x="603.1" y="2613.2" width="113" height="38"/>
<rect x="603.1" y="2651.2" width="113" height="0.9"/>
<rect x="603.1" y="2652.1" width="113" height="165.8"/>
<rect x="603.1" y="2817.9" width="113" height="45.8"/>
<rect x="603.1" y="2863.7" width="113" height="59.7"/>
</g>
<rect x="765.9" y="1693" width="133" height="1230.4" fill="#fff"/>
<rect x="773.4" y="1689" width="118" height="6" fill="#fff"/>
<g>
<rect x="775.9" y="1694" width="113" height="9.9" fill="#216579"/>
<rect x="775.9" y="1704" width="113" height="148.3" fill="#7E9D40"/>
<rect x="775.9" y="1852.3" width="113" height="310.5" fill="#A33C39"/>
<rect x="775.9" y="2162.9" width="113" height="264.3" fill="#6FBDD1"/>
<rect x="775.9" y="2427.2" width="113" height="7.8" fill="#484054"/>
<rect x="775.9" y="2435" width="113" height="44.3" fill="#AFC97A"/>
<rect x="775.9" y="2479.3" width="113" height="25" fill="#CD7371"/>
<rect x="775.9" y="2504.3" width="113" height="46.4" fill="#729ACA"/>
<rect x="775.9" y="2550.8" width="113" height="2.4" fill="#35271e"/>
<rect x="775.9" y="2553.2" width="113" height="2.1" fill="#1f2930"/>
<rect x="775.9" y="2555.3" width="113" height="2.4" fill="#25222c"/>
<rect x="775.9" y="2557.7" width="113" height="2.1" fill="#2b2023"/>
<rect x="775.9" y="2559.8" width="113" height="19" fill="#2C4D75"/>
<rect x="775.9" y="2578.8" width="113" height="10.6" fill="#d28240"/>
<rect x="775.9" y="2589.4" width="113" height="36.2" fill="#4BACC6"/>
<rect x="775.9" y="2625.5" width="113" height="208.6" fill="#9BBB59"/>
<rect x="775.9" y="2834.2" width="113" height="35" fill="#C0504D"/>
<rect x="775.9" y="2869.1" width="113" height="54.3" fill="#4F81BD"/>
</g>
<g fill="none" stroke="#1e1e1e" stroke-width="3.4" stroke-opacity="0.78">
<rect x="775.9" y="1694" width="113" height="9.9"/>
<rect x="775.9" y="1704" width="113" height="148.3"/>
<rect x="775.9" y="1852.3" width="113" height="310.5"/>
<rect x="775.9" y="2162.9" width="113" height="264.3"/>
<rect x="775.9" y="2427.2" width="113" height="7.8"/>
<rect x="775.9" y="2435" width="113" height="44.3"/>
<rect x="775.9" y="2479.3" width="113" height="25"/>
<rect x="775.9" y="2504.3" width="113" height="46.4"/>
<rect x="775.9" y="2550.8" width="113" height="2.4"/>
<rect x="775.9" y="2553.2" width="113" height="2.1"/>
<rect x="775.9" y="2555.3" width="113" height="2.4"/>
<rect x="775.9" y="2557.7" width="113" height="2.1"/>
<rect x="775.9" y="2559.8" width="113" height="19"/>
<rect x="775.9" y="2578.8" width="113" height="10.6"/>
<rect x="775.9" y="2589.4" width="113" height="36.2"/>
<rect x="775.9" y="2625.5" width="113" height="208.6"/>
<rect x="775.9" y="2834.2" width="113" height="35"/>
<rect x="775.9" y="2869.1" width="113" height="54.3"/>
</g>
<rect x="942.3" y="1693" width="133" height="1230.4" fill="#fff"/>
<rect x="949.8" y="1689" width="118" height="6" fill="#fff"/>
<g>
<rect x="952.3" y="1694" width="113" height="9.9" fill="#216579"/>
<rect x="952.3" y="1704" width="113" height="155.3" fill="#7E9D40"/>
<rect x="952.3" y="1859.3" width="113" height="302.7" fill="#A33C39"/>
<rect x="952.3" y="2161.9" width="113" height="2.4" fill="#222934"/>
<rect x="952.3" y="2164.4" width="113" height="2.4" fill="#3f332d"/>
<rect x="952.3" y="2166.8" width="113" height="232.6" fill="#6FBDD1"/>
<rect x="952.3" y="2399.4" width="113" height="9" fill="#635674"/>
<rect x="952.3" y="2408.5" width="113" height="40.7" fill="#AFC97A"/>
<rect x="952.3" y="2449.2" width="113" height="28.6" fill="#CD7371"/>
<rect x="952.3" y="2477.8" width="113" height="48.2" fill="#729ACA"/>
<rect x="952.3" y="2526" width="113" height="3" fill="#35271e"/>
<rect x="952.3" y="2529.1" width="113" height="3" fill="#1f2930"/>
<rect x="952.3" y="2532.1" width="113" height="3" fill="#25222c"/>
<rect x="952.3" y="2535.1" width="113" height="2.4" fill="#282b24"/>
<rect x="952.3" y="2537.5" width="113" height="2.1" fill="#2b2023"/>
<rect x="952.3" y="2539.6" width="113" height="13.6" fill="#2C4D75"/>
<rect x="952.3" y="2553.2" width="113" height="9" fill="#976136"/>
<rect x="952.3" y="2562.2" width="113" height="32.6" fill="#4BACC6"/>
<rect x="952.3" y="2594.8" width="113" height="239.4" fill="#9BBB59"/>
<rect x="952.3" y="2834.2" width="113" height="35" fill="#C0504D"/>
<rect x="952.3" y="2869.1" width="113" height="54.3" fill="#4F81BD"/>
</g>
<g fill="none" stroke="#1e1e1e" stroke-width="3.4" stroke-opacity="0.78">
<rect x="952.3" y="1694" width="113" height="9.9"/>
<rect x="952.3" y="1704" width="113" height="155.3"/>
<rect x="952.3" y="1859.3" width="113" height="302.7"/>
<rect x="952.3" y="2161.9" width="113" height="2.4"/>
<rect x="952.3" y="2164.4" width="113" height="2.4"/>
<rect x="952.3" y="2166.8" width="113" height="232.6"/>
<rect x="952.3" y="2399.4" width="113" height="9"/>
<rect x="952.3" y="2408.5" width="113" height="40.7"/>
<rect x="952.3" y="2449.2" width="113" height="28.6"/>
<rect x="952.3" y="2477.8" width="113" height="48.2"/>
<rect x="952.3" y="2526" width="113" height="3"/>
<rect x="952.3" y="2529.1" width="113" height="3"/>
<rect x="952.3" y="2532.1" width="113" height="3"/>
<rect x="952.3" y="2535.1" width="113" height="2.4"/>
<rect x="952.3" y="2537.5" width="113" height="2.1"/>
<rect x="952.3" y="2539.6" width="113" height="13.6"/>
<rect x="952.3" y="2553.2" width="113" height="9"/>
<rect x="952.3" y="2562.2" width="113" height="32.6"/>
<rect x="952.3" y="2594.8" width="113" height="239.4"/>
<rect x="952.3" y="2834.2" width="113" height="35"/>
<rect x="952.3" y="2869.1" width="113" height="54.3"/>
</g>
<rect x="1116.9" y="1693" width="133" height="1230.4" fill="#fff"/>
<rect x="1124.4" y="1689" width="118" height="6" fill="#fff"/>
<g>
<rect x="1126.9" y="1694" width="113" height="28.6" fill="#3693AA"/>
<rect x="1126.9" y="1722.7" width="113" height="40.1" fill="#664F83"/>
<rect x="1126.9" y="1762.8" width="113" height="626.1" fill="#7E9D40"/>
<rect x="1126.9" y="2388.9" width="113" height="87.4" fill="#A33C39"/>
<rect x="1126.9" y="2476.3" width="113" height="2.4" fill="#222934"/>
<rect x="1126.9" y="2478.7" width="113" height="2.1" fill="#3f332d"/>
<rect x="1126.9" y="2480.8" width="113" height="13.6" fill="#6FBDD1"/>
<rect x="1126.9" y="2494.4" width="113" height="2.4" fill="#302d38"/>
<rect x="1126.9" y="2496.8" width="113" height="2.1" fill="#1c1c20"/>
<rect x="1126.9" y="2498.9" width="113" height="21.1" fill="#AFC97A"/>
<rect x="1126.9" y="2520" width="113" height="67.8" fill="#CD7371"/>
<rect x="1126.9" y="2587.8" width="113" height="24.1" fill="#729ACA"/>
<rect x="1126.9" y="2612" width="113" height="2.1" fill="#35271e"/>
<rect x="1126.9" y="2614.1" width="113" height="3.9" fill="#1f2930"/>
<rect x="1126.9" y="2618" width="113" height="9" fill="#382e46"/>
<rect x="1126.9" y="2627" width="113" height="28.6" fill="#772C2A"/>
<rect x="1126.9" y="2655.7" width="113" height="28.6" fill="#F79646"/>
<rect x="1126.9" y="2684.3" width="113" height="11.2" fill="#7a609a"/>
<rect x="1126.9" y="2695.5" width="113" height="175.8" fill="#9BBB59"/>
<rect x="1126.9" y="2871.2" width="113" height="52.2" fill="#4F81BD"/>
</g>
<g fill="none" stroke="#1e1e1e" stroke-width="3.4" stroke-opacity="0.78">
<rect x="1126.9" y="1694" width="113" height="28.6"/>
<rect x="1126.9" y="1722.7" width="113" height="40.1"/>
<rect x="1126.9" y="1762.8" width="113" height="626.1"/>
<rect x="1126.9" y="2388.9" width="113" height="87.4"/>
<rect x="1126.9" y="2476.3" width="113" height="2.4"/>
<rect x="1126.9" y="2478.7" width="113" height="2.1"/>
<rect x="1126.9" y="2480.8" width="113" height="13.6"/>
<rect x="1126.9" y="2494.4" width="113" height="2.4"/>
<rect x="1126.9" y="2496.8" width="113" height="2.1"/>
<rect x="1126.9" y="2498.9" width="113" height="21.1"/>
<rect x="1126.9" y="2520" width="113" height="67.8"/>
<rect x="1126.9" y="2587.8" width="113" height="24.1"/>
<rect x="1126.9" y="2612" width="113" height="2.1"/>
<rect x="1126.9" y="2614.1" width="113" height="3.9"/>
<rect x="1126.9" y="2618" width="113" height="9"/>
<rect x="1126.9" y="2627" width="113" height="28.6"/>
<rect x="1126.9" y="2655.7" width="113" height="28.6"/>
<rect x="1126.9" y="2684.3" width="113" height="11.2"/>
<rect x="1126.9" y="2695.5" width="113" height="175.8"/>
<rect x="1126.9" y="2871.2" width="113" height="52.2"/>
</g>
<rect x="1291.2" y="1693" width="133" height="1230.4" fill="#fff"/>
<rect x="1298.7" y="1689" width="118" height="6" fill="#fff"/>
<g>
<rect x="1301.2" y="1694" width="113" height="21.7" fill="#3693AA"/>
<rect x="1301.2" y="1715.8" width="113" height="94.4" fill="#664F83"/>
<rect x="1301.2" y="1810.1" width="113" height="602.9" fill="#7E9D40"/>
<rect x="1301.2" y="2413" width="113" height="69.3" fill="#A33C39"/>
<rect x="1301.2" y="2482.3" width="113" height="5.1" fill="#1c1c20"/>
<rect x="1301.2" y="2487.4" width="113" height="8.1" fill="#6cbdd4"/>
<rect x="1301.2" y="2495.6" width="113" height="7.2" fill="#2e2a3c"/>
<rect x="1301.2" y="2502.8" width="113" height="13.6" fill="#AFC97A"/>
<rect x="1301.2" y="2516.4" width="113" height="65.4" fill="#CD7371"/>
<rect x="1301.2" y="2581.8" width="113" height="21.1" fill="#729ACA"/>
<rect x="1301.2" y="2602.9" width="113" height="3" fill="#35271e"/>
<rect x="1301.2" y="2605.9" width="113" height="3" fill="#1f2930"/>
<rect x="1301.2" y="2608.9" width="113" height="12.7" fill="#4D3B62"/>
<rect x="1301.2" y="2621.6" width="113" height="50.6" fill="#772C2A"/>
<rect x="1301.2" y="2672.3" width="113" height="4.5" fill="#20252e"/>
<rect x="1301.2" y="2676.8" width="113" height="36.2" fill="#F79646"/>
<rect x="1301.2" y="2713" width="113" height="14.5" fill="#8064A2"/>
<rect x="1301.2" y="2727.4" width="113" height="129.6" fill="#9BBB59"/>
<rect x="1301.2" y="2857.1" width="113" height="66.3" fill="#4F81BD"/>
</g>
<g fill="none" stroke="#1e1e1e" stroke-width="3.4" stroke-opacity="0.78">
<rect x="1301.2" y="1694" width="113" height="21.7"/>
<rect x="1301.2" y="1715.8" width="113" height="94.4"/>
<rect x="1301.2" y="1810.1" width="113" height="602.9"/>
<rect x="1301.2" y="2413" width="113" height="69.3"/>
<rect x="1301.2" y="2482.3" width="113" height="5.1"/>
<rect x="1301.2" y="2487.4" width="113" height="8.1"/>
<rect x="1301.2" y="2495.6" width="113" height="7.2"/>
<rect x="1301.2" y="2502.8" width="113" height="13.6"/>
<rect x="1301.2" y="2516.4" width="113" height="65.4"/>
<rect x="1301.2" y="2581.8" width="113" height="21.1"/>
<rect x="1301.2" y="2602.9" width="113" height="3"/>
<rect x="1301.2" y="2605.9" width="113" height="3"/>
<rect x="1301.2" y="2608.9" width="113" height="12.7"/>
<rect x="1301.2" y="2621.6" width="113" height="50.6"/>
<rect x="1301.2" y="2672.3" width="113" height="4.5"/>
<rect x="1301.2" y="2676.8" width="113" height="36.2"/>
<rect x="1301.2" y="2713" width="113" height="14.5"/>
<rect x="1301.2" y="2727.4" width="113" height="129.6"/>
<rect x="1301.2" y="2857.1" width="113" height="66.3"/>
</g>
<rect x="1467.3" y="1693" width="133" height="1230.4" fill="#fff"/>
<rect x="1474.8" y="1689" width="118" height="6" fill="#fff"/>
<g>
<rect x="1477.3" y="1694" width="113" height="34.7" fill="#3693AA"/>
<rect x="1477.3" y="1728.7" width="113" height="104.6" fill="#664F83"/>
<rect x="1477.3" y="1833.3" width="113" height="456.1" fill="#7E9D40"/>
<rect x="1477.3" y="2289.5" width="113" height="92.5" fill="#A33C39"/>
<rect x="1477.3" y="2381.9" width="113" height="2.7" fill="#222934"/>
<rect x="1477.3" y="2384.6" width="113" height="2.7" fill="#3f332d"/>
<rect x="1477.3" y="2387.4" width="113" height="19.6" fill="#6FBDD1"/>
<rect x="1477.3" y="2407" width="113" height="8.1" fill="#4f465c"/>
<rect x="1477.3" y="2415.1" width="113" height="16.9" fill="#AFC97A"/>
<rect x="1477.3" y="2432" width="113" height="102.5" fill="#CD7371"/>
<rect x="1477.3" y="2534.5" width="113" height="20.2" fill="#729ACA"/>
<rect x="1477.3" y="2554.7" width="113" height="2.4" fill="#35271e"/>
<rect x="1477.3" y="2557.1" width="113" height="2.7" fill="#1f2930"/>
<rect x="1477.3" y="2559.8" width="113" height="10.6" fill="#453657"/>
<rect x="1477.3" y="2570.4" width="113" height="62.7" fill="#772C2A"/>
<rect x="1477.3" y="2633.1" width="113" height="4.5" fill="#20252e"/>
<rect x="1477.3" y="2637.6" width="113" height="53.7" fill="#F79646"/>
<rect x="1477.3" y="2691.3" width="113" height="17.5" fill="#8064A2"/>
<rect x="1477.3" y="2708.7" width="113" height="147.4" fill="#9BBB59"/>
<rect x="1477.3" y="2856.2" width="113" height="6" fill="#362628"/>
<rect x="1477.3" y="2862.2" width="113" height="61.2" fill="#4F81BD"/>
</g>
<g fill="none" stroke="#1e1e1e" stroke-width="3.4" stroke-opacity="0.78">
<rect x="1477.3" y="1694" width="113" height="34.7"/>
<rect x="1477.3" y="1728.7" width="113" height="104.6"/>
<rect x="1477.3" y="1833.3" width="113" height="456.1"/>
<rect x="1477.3" y="2289.5" width="113" height="92.5"/>
<rect x="1477.3" y="2381.9" width="113" height="2.7"/>
<rect x="1477.3" y="2384.6" width="113" height="2.7"/>
<rect x="1477.3" y="2387.4" width="113" height="19.6"/>
<rect x="1477.3" y="2407" width="113" height="8.1"/>
<rect x="1477.3" y="2415.1" width="113" height="16.9"/>
<rect x="1477.3" y="2432" width="113" height="102.5"/>
<rect x="1477.3" y="2534.5" width="113" height="20.2"/>
<rect x="1477.3" y="2554.7" width="113" height="2.4"/>
<rect x="1477.3" y="2557.1" width="113" height="2.7"/>
<rect x="1477.3" y="2559.8" width="113" height="10.6"/>
<rect x="1477.3" y="2570.4" width="113" height="62.7"/>
<rect x="1477.3" y="2633.1" width="113" height="4.5"/>
<rect x="1477.3" y="2637.6" width="113" height="53.7"/>
<rect x="1477.3" y="2691.3" width="113" height="17.5"/>
<rect x="1477.3" y="2708.7" width="113" height="147.4"/>
<rect x="1477.3" y="2856.2" width="113" height="6"/>
<rect x="1477.3" y="2862.2" width="113" height="61.2"/>
</g>
<rect x="218.5" y="2921.3" width="1401.5" height="4.6" fill="#DADADA"/>
<text x="171.8" y="2941.9" text-anchor="end" class="t">0</text>
<text x="171.8" y="2819.3" text-anchor="end" class="t">0.1</text>
<text x="171.8" y="2696.8" text-anchor="end" class="t">0.2</text>
<text x="171.8" y="2574.2" text-anchor="end" class="t">0.3</text>
<text x="171.8" y="2451.7" text-anchor="end" class="t">0,4</text>
<text x="171.8" y="2329.1" text-anchor="end" class="t">0.5</text>
<text x="171.8" y="2206.5" text-anchor="end" class="t">0.6</text>
<text x="171.8" y="2084" text-anchor="end" class="t">0.7</text>
<text x="171.8" y="1961.4" text-anchor="end" class="t">0.8</text>
<text x="171.8" y="1838.9" text-anchor="end" class="t">0.9</text>
<text x="171.8" y="1716.3" text-anchor="end" class="t">1</text>
<text x="310.5" y="3005.8" text-anchor="middle" class="t">13.2</text>
<text x="485.1" y="3005.8" text-anchor="middle" class="t">14.2</text>
<text x="659.7" y="3005.8" text-anchor="middle" class="t">15.2</text>
<text x="834.3" y="3005.8" text-anchor="middle" class="t">16.2</text>
<text x="1008.9" y="3005.8" text-anchor="middle" class="t">17.2</text>
<text x="1183.5" y="3005.8" text-anchor="middle" class="t">18.2</text>
<text x="1358.1" y="3005.8" text-anchor="middle" class="t">19.2</text>
<text x="1532.7" y="3005.8" text-anchor="middle" class="t">20.2</text>
<text x="920" y="3072" text-anchor="middle" class="b">Samples</text>
<text x="921.8" y="1666.3" text-anchor="middle" class="b" style="font-size:68.9px">Obesity experiment group</text>
<text transform="translate(82.5 2316.5) rotate(-90)" text-anchor="middle" class="b">Abundance</text>
<text x="1684" y="299" class="b">Genus</text>
<rect x="1691" y="375.8" width="30.4" height="30.4" fill="#3aaecb" stroke="#1e1e1e" stroke-width="4" stroke-opacity="0.92"/>
<text x="1737" y="411.2" class="l">Anaerostipes</text>
<rect x="1691" y="484.4" width="30.4" height="30.4" fill="#795a9f" stroke="#1e1e1e" stroke-width="4" stroke-opacity="0.92"/>
<text x="1737" y="519.8" class="l">Bacteroides</text>
<rect x="1691" y="593" width="30.4" height="30.4" fill="#95bd46" stroke="#1e1e1e" stroke-width="4" stroke-opacity="0.92"/>
<text x="1737" y="628.4" class="l">Bifidobacterium</text>
<rect x="1691" y="701.6" width="30.4" height="30.4" fill="#c5413d" stroke="#1e1e1e" stroke-width="4" stroke-opacity="0.92"/>
<text x="1737" y="737" class="l">Blautia</text>
<rect x="1691" y="810.2" width="30.4" height="30.4" fill="#3d79bf" stroke="#1e1e1e" stroke-width="4" stroke-opacity="0.92"/>
<text x="1737" y="845.6" class="l">Catenibacterium</text>
<rect x="1691" y="918.8" width="30.4" height="30.4" fill="#ffaf6d" stroke="#1e1e1e" stroke-width="4" stroke-opacity="0.92"/>
<text x="1737" y="954.2" class="l">Clostridium sensu stricto 2</text>
<rect x="1691" y="1027.4" width="30.4" height="30.4" fill="#71c4d9" stroke="#1e1e1e" stroke-width="4" stroke-opacity="0.92"/>
<text x="1737" y="1062.8" class="l">Collinsella</text>
<rect x="1691" y="1136" width="30.4" height="30.4" fill="#9e87bc" stroke="#1e1e1e" stroke-width="4" stroke-opacity="0.92"/>
<text x="1737" y="1171.4" class="l">Dorea</text>
<rect x="1691" y="1244.6" width="30.4" height="30.4" fill="#b5d07c" stroke="#1e1e1e" stroke-width="4" stroke-opacity="0.92"/>
<text x="1737" y="1280" class="l">Eubacterium hallii group</text>
<rect x="1691" y="1353.2" width="30.4" height="30.4" fill="#d57573" stroke="#1e1e1e" stroke-width="4" stroke-opacity="0.92"/>
<text x="1737" y="1388.6" class="l">Faecalibacterium</text>
<rect x="1691" y="1461.8" width="30.4" height="30.4" fill="#749fd2" stroke="#1e1e1e" stroke-width="4" stroke-opacity="0.92"/>
<text x="1737" y="1497.2" class="l">Fusicatenibacter</text>
<rect x="1691" y="1570.4" width="30.4" height="30.4" fill="#e86900" stroke="#1e1e1e" stroke-width="4" stroke-opacity="0.92"/>
<text x="1737" y="1605.8" class="l">Holdemanella</text>
<rect x="1691" y="1679" width="30.4" height="30.4" fill="#2b8ba5" stroke="#1e1e1e" stroke-width="4" stroke-opacity="0.92"/>
<text x="1737" y="1714.4" class="l">Megasphaera</text>
<rect x="1691" y="1787.6" width="30.4" height="30.4" fill="#634982" stroke="#1e1e1e" stroke-width="4" stroke-opacity="0.92"/>
<text x="1737" y="1823" class="l">Paeniclostridium</text>
<rect x="1691" y="1896.2" width="30.4" height="30.4" fill="#7b9a38" stroke="#1e1e1e" stroke-width="4" stroke-opacity="0.92"/>
<text x="1737" y="1931.6" class="l">Phascolarctobacterium</text>
<rect x="1691" y="2004.8" width="30.4" height="30.4" fill="#9e3330" stroke="#1e1e1e" stroke-width="4" stroke-opacity="0.92"/>
<text x="1737" y="2040.2" class="l">Prevotella</text>
<rect x="1691" y="2113.4" width="30.4" height="30.4" fill="#33629c" stroke="#1e1e1e" stroke-width="4" stroke-opacity="0.92"/>
<text x="1737" y="2148.8" class="l">Pseudobutyrivibrio</text>
<rect x="1691" y="2222" width="30.4" height="30.4" fill="#ff9b48" stroke="#1e1e1e" stroke-width="4" stroke-opacity="0.92"/>
<text x="1737" y="2257.4" class="l">Roseburia</text>
<rect x="1691" y="2330.6" width="30.4" height="30.4" fill="#4db4d0" stroke="#1e1e1e" stroke-width="4" stroke-opacity="0.92"/>
<text x="1737" y="2366" class="l">Ruminococcus</text>
<rect x="1691" y="2439.2" width="30.4" height="30.4" fill="#8669aa" stroke="#1e1e1e" stroke-width="4" stroke-opacity="0.92"/>
<text x="1737" y="2474.6" class="l">Ruminococcus torques group</text>
<rect x="1691" y="2547.8" width="30.4" height="30.4" fill="#a2c45c" stroke="#1e1e1e" stroke-width="4" stroke-opacity="0.92"/>
<text x="1737" y="2583.2" class="l">Streptococcus</text>
<rect x="1691" y="2656.4" width="30.4" height="30.4" fill="#ca5350" stroke="#1e1e1e" stroke-width="4" stroke-opacity="0.92"/>
<text x="1737" y="2691.8" class="l">Subdoligranulum</text>
<rect x="1691" y="2765" width="30.4" height="30.4" fill="#5287c7" stroke="#1e1e1e" stroke-width="4" stroke-opacity="0.92"/>
<text x="1737" y="2800.4" class="o">Other</text>
</svg>
</body>
</html>
